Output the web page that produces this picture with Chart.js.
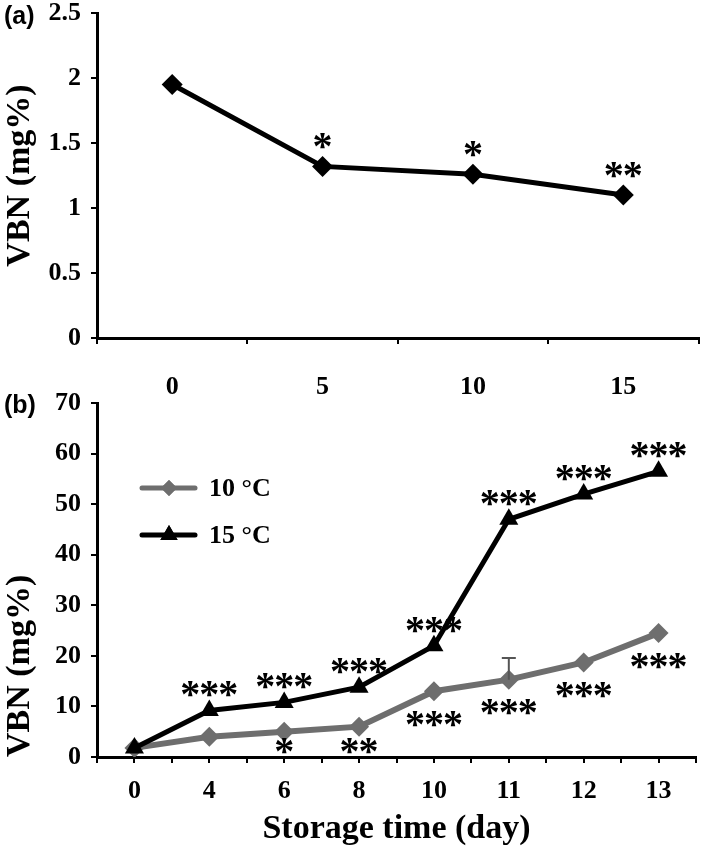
<!DOCTYPE html>
<html><head><meta charset="utf-8">
<script src="https://cdn.jsdelivr.net/npm/chart.js@4"></script>
<style>
html,body{margin:0;padding:0;background:#fff;width:709px;height:856px;overflow:hidden}
#ca{position:absolute;left:0;top:-20px}
#cb{position:absolute;left:0;top:370px}
</style></head><body>
<canvas id="ca" width="709" height="440"></canvas>
<canvas id="cb" width="709" height="486"></canvas>
<script>
// ---- panel (a) data ----
const daysA = ['0','5','10','15'];
const vbnA = [1.95, 1.32, 1.26, 1.1];
const starsA = ['', '*', '*', '**'];

// ---- panel (b) data ----
const daysB = ['0','4','6','8','10','11','12','13'];
const vbn10 = [1.8, 4, 5, 6, 13, 15.3, 18.7, 24.5];
const vbn15 = [1.8, 9.2, 10.8, 13.8, 22, 47, 52, 56.5];
const err10 = [null, null, null, null, null, 19.6, null, null];
const stars10 = ['', '', '*', '**', '***', '***', '***', '***'];
const stars15 = ['', '***', '***', '***', '***', '***', '***', '***'];
const seriesNames = ['10 °C', '15 °C'];
const yTitle = 'VBN (mg%)';
const xTitleB = 'Storage time (day)';

const SERIF = "'Liberation Serif','Times New Roman',serif";
const SANS = "'Liberation Sans',Arial,sans-serif";
const GRAY = '#6e6e6e';
Chart.defaults.font.family = SERIF;
Chart.defaults.font.weight = 'bold';
Chart.defaults.color = '#000';

const starsPlugin = {
  id: 'stars',
  afterDatasetsDraw(chart, args, opts) {
    const ctx = chart.ctx;
    ctx.save();
    const size = opts.size || 30;
    ctx.font = 'bold ' + size + 'px ' + SERIF;
    ctx.fillStyle = '#000';
    ctx.textAlign = 'center';
    ctx.textBaseline = 'alphabetic';
    const axisY = chart.chartArea.bottom;
    (opts.sets || []).forEach(set => {
      const meta = chart.getDatasetMeta(set.ds);
      set.labels.forEach((lab, i) => {
        if (!lab) return;
        const pt = meta.data[i];
        const k = lab.length;
        let cy = pt.y + set.dy;
        if (cy > axisY - 12) cy = axisY - 12;
        for (let j = 0; j < k; j++) {
          const x = pt.x + (j - (k - 1) / 2) * (opts.spacing || 18);
          ctx.fillText('*', x, cy + size * 0.47);
        }
      });
    });
    ctx.restore();
  }
};

const panelLabel = {
  id: 'panelLabel',
  afterDraw(chart, args, opts) {
    const ctx = chart.ctx;
    ctx.save();
    ctx.font = 'bold 25px ' + SANS;
    ctx.fillStyle = '#000';
    ctx.textAlign = 'left';
    ctx.textBaseline = 'middle';
    ctx.fillText(opts.text, opts.x, opts.y);
    ctx.restore();
  }
};

const errPlugin = {
  id: 'errbar',
  afterDatasetsDraw(chart, args, opts) {
    if (!opts.values) return;
    const ctx = chart.ctx;
    const meta = chart.getDatasetMeta(opts.ds);
    const ys = chart.scales.y;
    ctx.save();
    ctx.strokeStyle = opts.color;
    ctx.lineWidth = 2;
    opts.values.forEach((v, i) => {
      if (v == null) return;
      const pt = meta.data[i];
      const yt = ys.getPixelForValue(v);
      ctx.beginPath();
      ctx.moveTo(pt.x, pt.y);
      ctx.lineTo(pt.x, yt);
      ctx.moveTo(pt.x - 7, yt);
      ctx.lineTo(pt.x + 7, yt);
      ctx.stroke();
    });
    ctx.restore();
  }
};

const legendPlugin = {
  id: 'customLegend',
  afterDraw(chart, args, opts) {
    const ctx = chart.ctx;
    ctx.save();
    opts.items.forEach(it => {
      ctx.strokeStyle = it.color;
      ctx.fillStyle = it.color;
      ctx.lineWidth = 5;
      ctx.lineCap = 'round';
      ctx.beginPath();
      ctx.moveTo(opts.x, it.y);
      ctx.lineTo(opts.x + 53, it.y);
      ctx.stroke();
      Chart.helpers.drawPoint(ctx, {pointStyle: it.style, radius: it.r, rotation: 0, borderWidth: 0}, opts.x + 27, it.y);
      ctx.fill();
      ctx.fillStyle = '#000';
      ctx.font = 'bold 26px ' + SERIF;
      ctx.textAlign = 'left';
      ctx.textBaseline = 'middle';
      ctx.fillText(it.text, opts.x + 67, it.y + 1);
    });
    ctx.restore();
  }
};

const axisBorder = {display: true, color: '#000', width: 3};
const tickGrid = {drawOnChartArea: false, drawTicks: true, tickLength: 6, color: '#000', lineWidth: 2};

// ---- chart (a) ----
new Chart(document.getElementById('ca'), {
  type: 'line',
  data: {
    labels: daysA,
    datasets: [{
      data: vbnA, borderColor: '#000', backgroundColor: '#000', borderWidth: 5,
      pointStyle: 'rectRot', pointRadius: 10.5, pointBorderWidth: 0, tension: 0
    }]
  },
  options: {
    responsive: false, animation: false, events: [],
    layout: {padding: {left: 0, right: 4, top: 33, bottom: 20}},
    plugins: {
      legend: {display: false}, tooltip: {enabled: false},
      stars: {size: 40, spacing: 19, sets: [{ds: 0, labels: starsA, dy: -26}]},
      panelLabel: {text: '(a)', x: 4, y: 37}
    },
    scales: {
      x: {
        type: 'category', offset: true,
        grid: Object.assign({offset: true}, tickGrid),
        border: axisBorder,
        ticks: {font: {size: 26}, padding: 28, maxRotation: 0},
        afterFit(s) { s.height = 62; }
      },
      y: {
        min: 0, max: 2.5,
        ticks: {stepSize: 0.5, font: {size: 26}, padding: 10, callback: v => String(v)},
        grid: tickGrid, border: axisBorder,
        title: {display: true, text: yTitle, font: {size: 34}, padding: 0},
        afterFit(s) { s.width = 97; }
      }
    }
  },
  plugins: [starsPlugin, panelLabel]
});

// ---- chart (b) ----
new Chart(document.getElementById('cb'), {
  type: 'line',
  data: {
    datasets: [
      {label: seriesNames[0], data: vbn10.map((y, i) => ({x: i, y})), order: 1,
       borderColor: GRAY, backgroundColor: GRAY, borderWidth: 6,
       pointStyle: 'rectRot', pointRadius: 10, pointBorderWidth: 0, tension: 0},
      {label: seriesNames[1], data: vbn15.map((y, i) => ({x: i, y})), order: 0,
       borderColor: '#000', backgroundColor: '#000', borderWidth: 5,
       pointStyle: 'triangle', pointRadius: 11, pointBorderWidth: 0, tension: 0}
    ]
  },
  options: {
    responsive: false, animation: false, events: [],
    layout: {padding: {left: 0, right: 4, top: 33, bottom: 0}},
    plugins: {
      legend: {display: false}, tooltip: {enabled: false},
      stars: {size: 40, spacing: 19, sets: [
        {ds: 1, labels: stars15, dy: -22},
        {ds: 0, labels: stars10, dy: 27}
      ]},
      errbar: {ds: 0, values: err10, color: '#555'},
      panelLabel: {text: '(b)', x: 4, y: 36},
      customLegend: {x: 142, items: [
        {text: seriesNames[0], color: GRAY, style: 'rectRot', r: 8, y: 118},
        {text: seriesNames[1], color: '#000', style: 'triangle', r: 10, y: 165}
      ]}
    },
    scales: {
      x: {
        type: 'linear', min: -0.5, max: 7.5,
        grid: tickGrid, border: axisBorder,
        ticks: {stepSize: 0.5, autoSkip: false, maxRotation: 0, font: {size: 26}, padding: 13,
                callback: v => Number.isInteger(v) ? daysB[v] : ''},
        title: {display: true, text: xTitleB, font: {size: 34}, padding: {top: 0, bottom: 6}},
        afterFit(s) { s.height = 99; }
      },
      y: {
        min: 0, max: 70,
        ticks: {stepSize: 10, font: {size: 26}, padding: 10},
        grid: tickGrid, border: axisBorder,
        title: {display: true, text: yTitle, font: {size: 34}, padding: 0, align: 'start'},
        afterFit(s) { s.width = 97; }
      }
    }
  },
  plugins: [starsPlugin, errPlugin, panelLabel, legendPlugin]
});
</script>
</body></html>
